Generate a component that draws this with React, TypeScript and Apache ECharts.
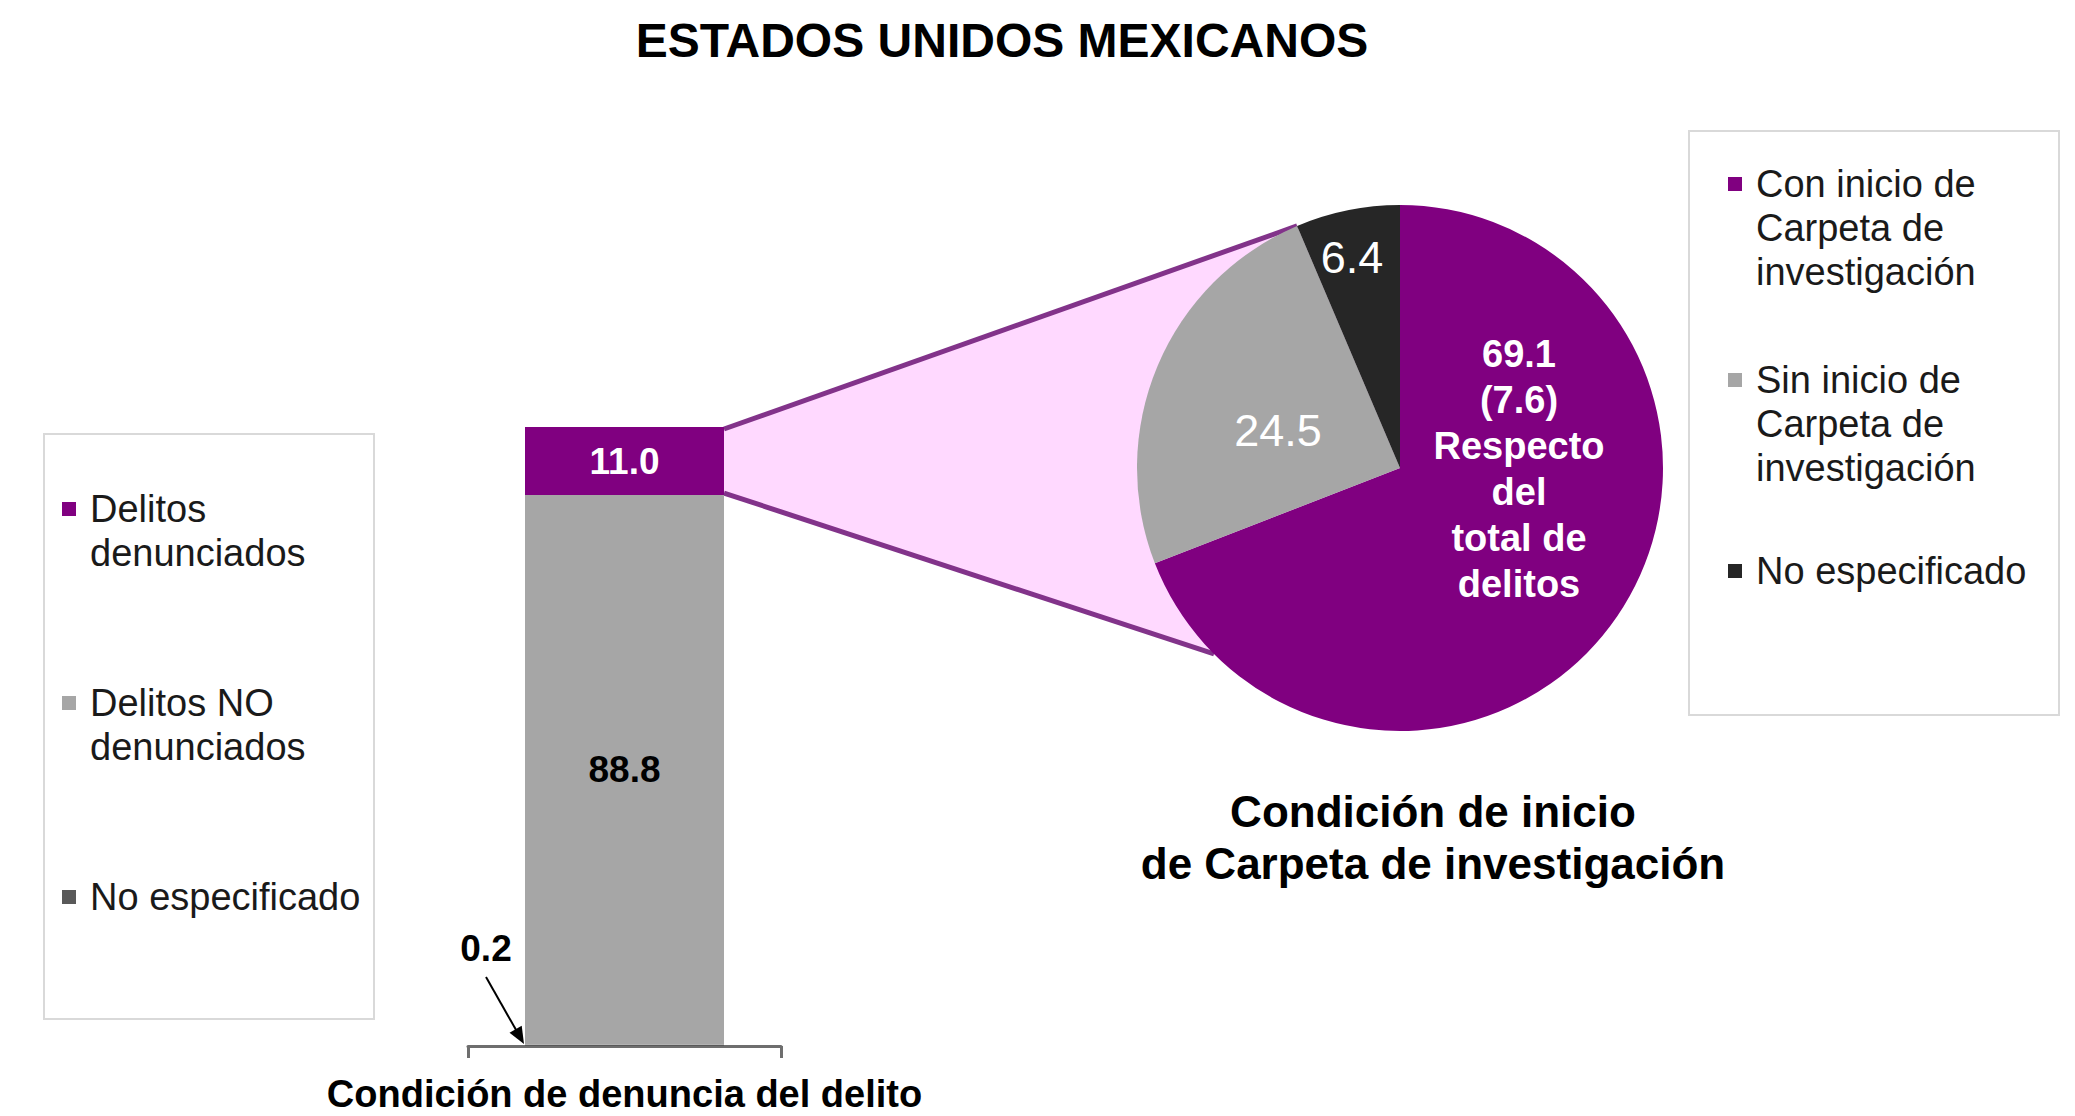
import React, { useEffect, useRef } from 'react';
import * as echarts from 'echarts';

// ---------- data ----------
const barCategories = ['Condición de denuncia del delito'];
const barSeriesNames = ['No especificado', 'Delitos NO denunciados', 'Delitos denunciados'];
const barValues = [0.2, 88.8, 11.0];
const barColors = ['#595959', '#A6A6A6', '#800080'];

const pieNames = [
  'Con inicio de Carpeta de investigación',
  'Sin inicio de Carpeta de investigación',
  'No especificado',
];
const pieValues = [69.1, 24.5, 6.4];
const pieColors = ['#800080', '#A6A6A6', '#262626'];

const leftLegendNames = ['Delitos denunciados', 'Delitos NO denunciados', 'No especificado'];
const leftLegendLabels = ['Delitos\ndenunciados', 'Delitos NO\ndenunciados', 'No especificado'];
const rightLegendLabels = ['Con inicio de\nCarpeta de\ninvestigación', 'Sin inicio de\nCarpeta de\ninvestigación', 'No especificado'];

const mainTitle = 'ESTADOS UNIDOS MEXICANOS';
const pieTitle = 'Condición de inicio\nde Carpeta de investigación';

// ---------- layout ----------
const W = 2075;
const H = 1116;
const FONT = "'Liberation Sans', Arial, Helvetica, sans-serif";
const BAR_WIDTH = 199;
const PIE_CX = 1400;
const PIE_CY = 468;
const PIE_R = 263;
const FUNNEL_BOTTOM_ANGLE = 225;
const PINK = '#FFD9FF';
const FUNNEL_LINE = '#82338A';
const LEGEND_LH = 44;
// label centres relative to the pie centre
const pieLabelPos = [
  [119, 1],
  [-122, -38],
  [-48, -211],
];

// prepend blank lines so the legend marker sits on the first text line
const padLines = (s: string) => {
  const n = s.split('\n').length;
  return '\n'.repeat(n - 1) + s;
};

export default function App() {
  const ref = useRef<HTMLDivElement>(null);

  useEffect(() => {
    document.body.style.margin = '0';
    const el = ref.current;
    if (!el) return;
    const chart = echarts.init(el, null, { renderer: 'svg' });

    const total = barValues.reduce((a, b) => a + b, 0);
    const purpleShare = ((pieValues[0] * barValues[2]) / 100).toFixed(1);

    const leftMap: Record<string, string> = {};
    leftLegendNames.forEach((n, i) => (leftMap[n] = padLines(leftLegendLabels[i])));
    const rightMap: Record<string, string> = {};
    pieNames.forEach((n, i) => (rightMap[n] = padLines(rightLegendLabels[i])));

    const legendText = { fontSize: 38, lineHeight: LEGEND_LH, color: '#1a1a1a', fontFamily: FONT };

    const option: any = {
      animation: false,
      backgroundColor: '#ffffff',
      textStyle: { fontFamily: FONT },
      title: [
        {
          text: mainTitle,
          left: 1002,
          top: 12,
          textAlign: 'center',
          padding: 0,
          textStyle: { fontSize: 48, fontWeight: 'bold', color: '#000', lineHeight: 56, fontFamily: FONT },
        },
        {
          text: pieTitle,
          left: 1433,
          top: 785,
          textAlign: 'center',
          padding: 0,
          textStyle: { fontSize: 44, fontWeight: 'bold', color: '#000', lineHeight: 52, fontFamily: FONT },
        },
      ],
      legend: [
        {
          orient: 'vertical',
          left: 62,
          top: 443,
          padding: 0,
          itemGap: 62,
          itemWidth: 14,
          itemHeight: 14,
          icon: 'rect',
          selectedMode: false,
          textStyle: legendText,
          formatter: (n: string) => leftMap[n] ?? n,
          data: [
            { name: leftLegendNames[0], textStyle: { padding: [0, 0, 0, 9] } },
            { name: leftLegendNames[1], textStyle: { padding: [0, 0, 0, 9] } },
            { name: leftLegendNames[2], textStyle: { padding: [44, 0, 44, 9] } },
          ],
        },
        {
          orient: 'vertical',
          left: 1728,
          top: 74,
          padding: 0,
          itemGap: -24,
          itemWidth: 14,
          itemHeight: 14,
          icon: 'rect',
          selectedMode: false,
          textStyle: legendText,
          formatter: (n: string) => rightMap[n] ?? n,
          data: [
            { name: pieNames[0], itemStyle: { color: pieColors[0] }, textStyle: { padding: [0, 0, 0, 9] } },
            { name: pieNames[1], itemStyle: { color: pieColors[1] }, textStyle: { padding: [0, 0, 0, 9] } },
            { name: pieNames[2], itemStyle: { color: pieColors[2] }, textStyle: { padding: [83, 0, 83, 9] } },
          ],
        },
      ],
      grid: {
        left: 468,
        right: W - 781,
        top: 427,
        bottom: H - 1046,
        containLabel: false,
        outerBoundsMode: 'none',
      },
      xAxis: {
        type: 'category',
        data: barCategories,
        axisLine: { show: true, lineStyle: { color: '#6e6e6e', width: 3 } },
        axisTick: { show: true, length: 12, lineStyle: { color: '#6e6e6e', width: 3 } },
        axisLabel: {
          show: true,
          margin: 30,
          fontSize: 38,
          fontWeight: 'bold',
          lineHeight: 36,
          color: '#000',
          fontFamily: FONT,
        },
        splitLine: { show: false },
      },
      yAxis: { type: 'value', min: 0, max: 100, show: false },
      series: [
        ...barSeriesNames.map((name, i) => ({
          type: 'bar',
          name,
          stack: 'total',
          barWidth: BAR_WIDTH,
          data: [barValues[i]],
          itemStyle: { color: barColors[i] },
          emphasis: { disabled: true },
          label:
            i === 0
              ? {
                  show: true,
                  position: [-39, -96],
                  align: 'center',
                  verticalAlign: 'middle',
                  color: '#000',
                  fontSize: 37,
                  fontWeight: 'bold',
                  fontFamily: FONT,
                  formatter: (p: any) => Number(p.value).toFixed(1),
                }
              : {
                  show: true,
                  position: 'inside',
                  color: i === 2 ? '#fff' : '#000',
                  fontSize: 37,
                  fontWeight: 'bold',
                  fontFamily: FONT,
                  formatter: (p: any) => Number(p.value).toFixed(1),
                },
        })),
        {
          type: 'pie',
          name: 'Condición de inicio de Carpeta de investigación',
          center: [PIE_CX, PIE_CY],
          radius: PIE_R,
          startAngle: 90,
          clockwise: true,
          avoidLabelOverlap: false,
          z: 3,
          emphasis: { disabled: true },
          itemStyle: { borderWidth: 0 },
          labelLine: { show: false },
          data: pieNames.map((name, i) => ({
            name,
            value: pieValues[i],
            itemStyle: { color: pieColors[i] },
            label:
              i === 0
                ? { fontSize: 38, fontWeight: 'bold', lineHeight: 46 }
                : { fontSize: 45, fontWeight: 'normal' },
          })),
          label: {
            show: true,
            position: 'inside',
            color: '#fff',
            fontFamily: FONT,
            formatter: (p: any) =>
              p.dataIndex === 0
                ? `${Number(p.value).toFixed(1)}\n(${purpleShare})\nRespecto\ndel\ntotal de\ndelitos`
                : Number(p.value).toFixed(1),
          },
          labelLayout: (p: any) => ({
            x: PIE_CX + pieLabelPos[p.dataIndex][0],
            y: PIE_CY + pieLabelPos[p.dataIndex][1],
            align: 'center',
            verticalAlign: 'middle',
          }),
        },
      ],
    };

    chart.setOption(option);

    // derive decoration coordinates from the chart's own scales
    const topPt = chart.convertToPixel({ gridIndex: 0 }, [0, total]) as number[];
    const midPt = chart.convertToPixel({ gridIndex: 0 }, [0, total - barValues[2]]) as number[];
    const botPt = chart.convertToPixel({ gridIndex: 0 }, [0, 0]) as number[];
    const barRight = topPt[0] + BAR_WIDTH / 2;
    const barLeft = topPt[0] - BAR_WIDTH / 2;

    const polar = (deg: number) => {
      const a = (deg * Math.PI) / 180;
      return [PIE_CX + PIE_R * Math.sin(a), PIE_CY - PIE_R * Math.cos(a)];
    };
    const topEnd = polar(360 * (1 - pieValues[2] / 100));
    const botEnd = polar(FUNNEL_BOTTOM_ANGLE);

    // arrow for the 0.2 segment
    const tail = [barLeft - 39, botPt[1] - 69];
    const tip = [barLeft - 1, botPt[1] - 2];
    const dx = tip[0] - tail[0];
    const dy = tip[1] - tail[1];
    const len = Math.hypot(dx, dy);
    const ux = dx / len;
    const uy = dy / len;
    const nx = -uy;
    const ny = ux;
    const headL = 17;
    const headW = 7;
    const base = [tip[0] - ux * headL, tip[1] - uy * headL];

    chart.setOption({
      graphic: [
        {
          type: 'rect',
          z: 0,
          shape: { x: 44, y: 434, width: 330, height: 585 },
          style: { fill: '#fff', stroke: '#d9d9d9', lineWidth: 2 },
          silent: true,
        },
        {
          type: 'rect',
          z: 0,
          shape: { x: 1689, y: 131, width: 370, height: 584 },
          style: { fill: '#fff', stroke: '#d9d9d9', lineWidth: 2 },
          silent: true,
        },
        {
          type: 'polygon',
          z: 1,
          silent: true,
          shape: {
            points: [
              [barRight, topPt[1]],
              topEnd,
              [PIE_CX, PIE_CY],
              botEnd,
              [barRight, midPt[1]],
            ],
          },
          style: { fill: PINK },
        },
        {
          type: 'line',
          z: 1,
          silent: true,
          shape: { x1: barRight, y1: topPt[1] + 2, x2: topEnd[0], y2: topEnd[1] },
          style: { stroke: FUNNEL_LINE, lineWidth: 5 },
        },
        {
          type: 'line',
          z: 1,
          silent: true,
          shape: { x1: barRight, y1: midPt[1] - 2, x2: botEnd[0], y2: botEnd[1] },
          style: { stroke: FUNNEL_LINE, lineWidth: 5 },
        },
        {
          type: 'line',
          z: 5,
          silent: true,
          shape: { x1: tail[0], y1: tail[1], x2: base[0] + ux * 3, y2: base[1] + uy * 3 },
          style: { stroke: '#000', lineWidth: 2 },
        },
        {
          type: 'polygon',
          z: 5,
          silent: true,
          shape: {
            points: [
              tip,
              [base[0] + nx * headW, base[1] + ny * headW],
              [base[0] - nx * headW, base[1] - ny * headW],
            ],
          },
          style: { fill: '#000' },
        },
      ],
    });

    return () => {
      chart.dispose();
    };
  }, []);

  return <div ref={ref} style={{ width: W, height: H, position: 'absolute', left: 0, top: 0 }} />;
}
